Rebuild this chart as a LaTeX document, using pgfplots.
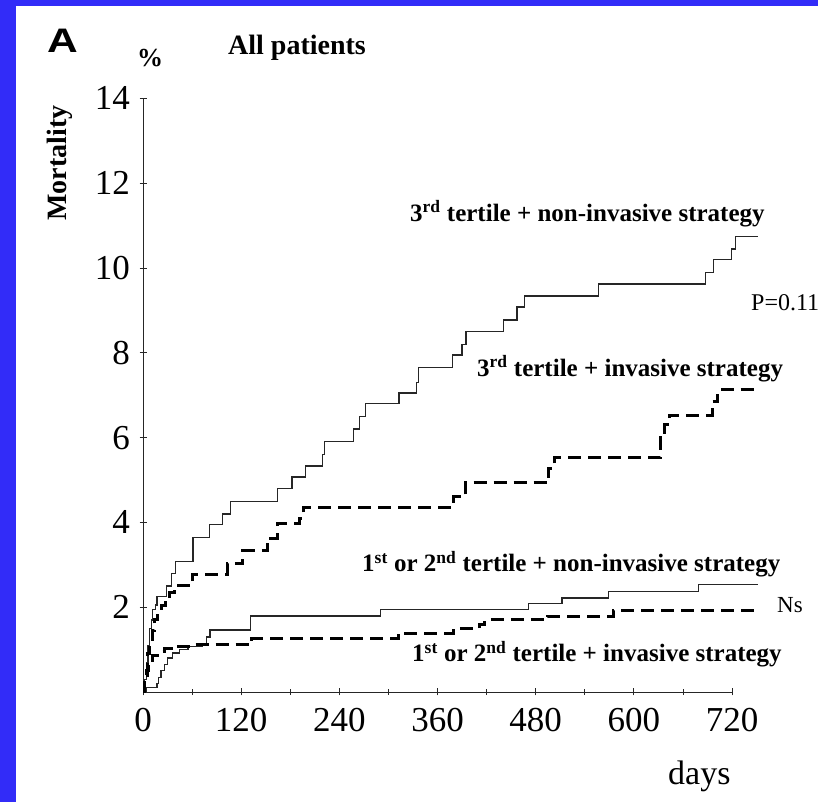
\documentclass[border=0pt]{standalone}
\usepackage{pgfplots}
\pgfplotsset{compat=1.18}
\usepackage{fontspec}
\setmainfont{Liberation Serif}
\newfontfamily\arialfont{Liberation Sans}
\definecolor{panelblue}{RGB}{50,44,248}

% step curves, days vs mortality (%)
\pgfplotstableread{
d v
0 0
2 0.3
4 0.7
6 1.1
8 1.5
10 1.7
12 1.95
15 2.05
17 2.25
29 2.5
35 2.8
40 3.07
61 3.65
81 3.95
97 4.2
107 4.5
164 4.8
182 5.07
199 5.33
219 5.6
222 5.9
257 6.2
265 6.49
272 6.8
313 7.05
334 7.3
337 7.66
378 7.95
390 8.2
395 8.5
441 8.77
457 9.08
466 9.34
557 9.62
688 9.89
697 10.2
719 10.45
724 10.75
752 10.75
}\thirdnoninv

\pgfplotstableread{
d v
0 0
2 0.4
5 0.9
8 1.2
11 1.44
14 1.72
18 1.9
22 2.05
27 2.2
32 2.35
38 2.5
60 2.78
103 3.02
122 3.33
152 3.63
164 3.98
191 4.1
196 4.36
380 4.6
394 4.94
496 5.28
503 5.54
633 6.0
638 6.3
643 6.53
696 6.85
702 7.0
708 7.13
752 7.13
}\thirdinv

\pgfplotstableread{
d v
0 0
4 0.1
17 0.2
19 0.35
22 0.5
26 0.65
30 0.8
36 0.92
45 1.0
55 1.08
73 1.15
78 1.3
82 1.46
131 1.79
290 1.95
471 2.08
512 2.22
569 2.37
679 2.54
752 2.54
}\lownoninv

\pgfplotstableread{
d v
0 0
2 0.3
4 0.5
7 0.66
12 0.85
18 0.95
26 1.02
40 1.08
58 1.12
133 1.25
312 1.39
379 1.49
411 1.6
418 1.7
495 1.79
575 1.93
750 1.93
}\lowinv

\begin{document}
\begin{tikzpicture}[x=1bp,y=1bp]
\path[use as bounding box] (0,0) rectangle (818,802);
\clip (0,0) rectangle (818,802);
\fill[panelblue] (0,0) rectangle (818,802);
\fill[white] (16,0) rectangle (818,796);

\begin{axis}[
  at={(143bp,110bp)}, anchor=south west,
  scale only axis, width=589bp, height=593.6bp,
  xmin=0, xmax=720, ymin=0, ymax=14,
  axis lines=left,
  axis line style={-, line width=0.9bp, black!85},
  xtick={0,120,...,720}, ytick={2,4,...,14},
  minor x tick num=1,
  tick align=center,
  major tick length=7bp, minor tick length=6bp,
  every tick/.style={line width=0.8bp, black!85},
  ticklabel style={font=\fontsize{35bp}{40bp}\selectfont},
  xticklabel style={yshift=-9bp},
  yticklabel style={xshift=-6bp},
  /pgf/number format/assume math mode=true,
  clip=false,
]
\addplot[const plot, line width=1.3bp, black!85] table[x=d,y=v] {\thirdnoninv};
\addplot[const plot, line width=3bp, black, dash pattern=on 13bp off 7bp] table[x=d,y=v] {\thirdinv};
\addplot[const plot, line width=1.3bp, black!85] table[x=d,y=v] {\lownoninv};
\addplot[const plot, line width=3bp, black, dash pattern=on 13bp off 7bp] table[x=d,y=v] {\lowinv};
\end{axis}

\begin{scope}[every node/.style={inner sep=0pt}]
\node[anchor=base west, xscale=1.25] at (47,749) {\arialfont\bfseries\fontsize{34bp}{38bp}\selectfont A};
\node[anchor=base west] at (137,735) {\bfseries\fontsize{26bp}{30bp}\selectfont \%};
\node[anchor=base west] at (228,747) {\bfseries\fontsize{28bp}{32bp}\selectfont All patients};
\node[rotate=90] at (60,639) {\bfseries\fontsize{28bp}{32bp}\selectfont Mortality};
\begin{scope}[every node/.append style={font=\bfseries\fontsize{25bp}{30bp}\selectfont, anchor=base west}]
\node at (410,580) {3\textsuperscript{rd} tertile + non-invasive strategy};
\node at (477,425) {3\textsuperscript{rd} tertile + invasive strategy};
\node at (362,230) {1\textsuperscript{st} or 2\textsuperscript{nd} tertile + non-invasive strategy};
\node at (412,140) {1\textsuperscript{st} or 2\textsuperscript{nd} tertile + invasive strategy};
\end{scope}
\node[anchor=base west] at (751,491) {\fontsize{24bp}{28bp}\selectfont P=0.11};
\node[anchor=base west] at (777,189) {\fontsize{23bp}{28bp}\selectfont Ns};
\node[anchor=base west] at (668,17) {\fontsize{34bp}{40bp}\selectfont days};
\end{scope}
\end{tikzpicture}
\end{document}
